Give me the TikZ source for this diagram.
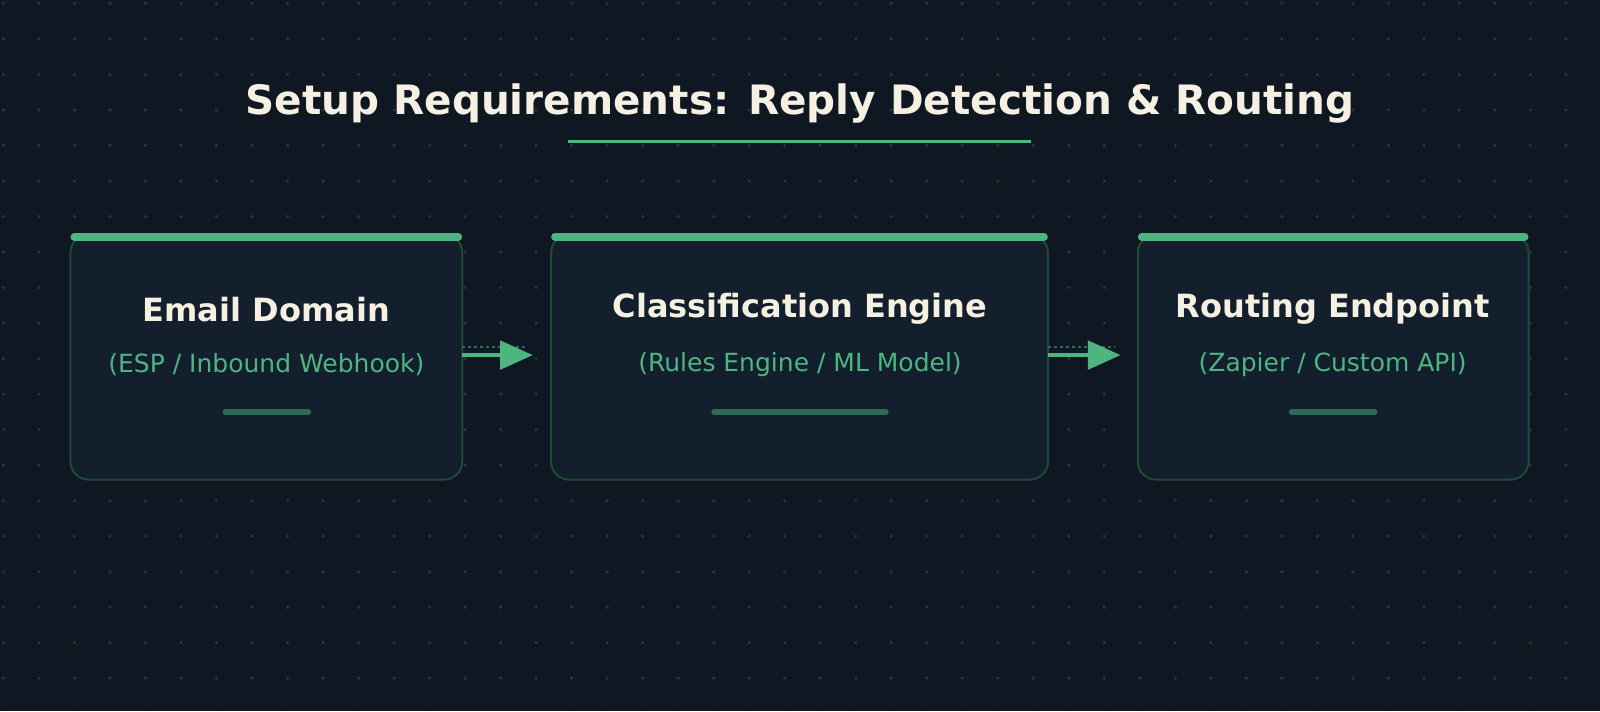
\documentclass[tikz,border=0pt]{standalone}
\usepackage{fontspec}
\setmainfont{DejaVu Sans}
\definecolor{bg}{HTML}{0F1722}
\definecolor{card}{HTML}{131F2D}
\definecolor{cardline}{HTML}{1F4A35}
\definecolor{accent}{HTML}{4DB580}
\definecolor{cream}{HTML}{F5F0E1}
\definecolor{muted}{HTML}{2E6B55}
\definecolor{dot}{HTML}{1A3D30}
\begin{document}
\begin{tikzpicture}[x=1.0204pt,y=-1.0204pt,
  card/.style={draw=cardline,line width=2pt,fill=card,rounded corners=18pt},
  topbar/.style={line width=8pt,draw=accent,line cap=round},
  minibar/.style={line width=6pt,draw=muted,line cap=round},
  ttl/.style={font=\bfseries\fontsize{32}{38}\selectfont,text=cream},
  sub/.style={font=\fontsize{25}{30}\selectfont,text=accent},
  arr/.style={line width=4pt,draw=accent},
  dots/.style={draw=muted,line width=1.5pt,dash pattern=on 3pt off 3pt}]
\useasboundingbox (0,0) rectangle (1568,697);
\fill[bg] (0,0) rectangle (1568,697);
\foreach \i in {0,...,45}{\foreach \j in {0,...,20}{
  \fill[dot] (3.4+34.8*\i,3.4+34.8*\j) circle (1.8pt);}}
\node[font=\bfseries\fontsize{40.5}{48}\selectfont,text=cream] (title) at (784,101) {Setup Requirements: Reply Detection \& Routing};
\draw[accent,line width=3pt] (557,139) -- (1010,139) coordinate (ul);
% cards
\foreach \n/\a/\b in {c1/69/453,c2/540/1027,c3/1115/1498}{
  \draw[card] (\a,230) rectangle (\b,470);
  \draw[topbar] (\a+4,232) -- (\b-4,232);
  \coordinate (\n w) at (\a,348);
  \coordinate (\n e) at (\b,348);
}
\node[ttl] (t1) at (261,303) {Email Domain};
\node[sub] (s1) at (261,357) {(ESP / Inbound Webhook)};
\draw[minibar] (221,404) -- (302,404);
\node[ttl] (t2) at (784,303) {Classification Engine};
\node[sub] (s2) at (784,357) {(Rules Engine / ML Model)};
\draw[minibar] (700,404) -- (868,404);
\node[ttl] (t3) at (1306,303) {Routing Endpoint};
\node[sub] (s3) at (1306,357) {(Zapier / Custom API)};
\draw[minibar] (1266,404) -- (1347,404);
% arrows
\coordinate (a1) at (522,348);
\coordinate (a2) at (1098,348);
\draw[dots] ([yshift=8]c1e) -- ([xshift=-6,yshift=8]a1);
\draw[arr] (c1e) -- ([xshift=-25]a1);
\fill[accent] (a1) -- ++(-32,-14.5) -- ++(0,29) -- cycle;
\draw[dots] ([yshift=8]c2e) -- ([xshift=-6,yshift=8]a2);
\draw[arr] (c2e) -- ([xshift=-25]a2);
\fill[accent] (a2) -- ++(-32,-14.5) -- ++(0,29) -- cycle;
\end{tikzpicture}
\end{document}
